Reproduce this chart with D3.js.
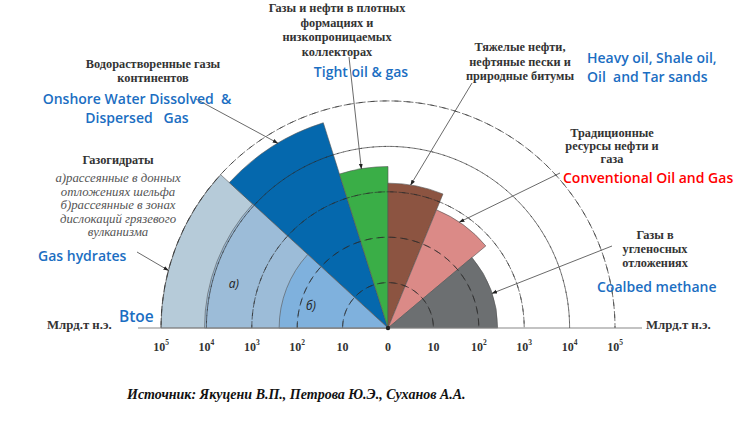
<!DOCTYPE html>
<html>
<head>
<meta charset="utf-8">
<script src="https://cdn.jsdelivr.net/npm/d3@7"></script>
<style>
  html, body { margin: 0; padding: 0; background: #fff; }
  svg { display: block; }
  .ru { font-family: "Liberation Serif", "DejaVu Serif", serif; font-weight: bold; fill: #333; font-size: 12.3px; }
  .ru-it { font-family: "Liberation Serif", "DejaVu Serif", serif; font-style: italic; fill: #555; font-size: 12.8px; }
  .en { font-family: "Open Sans", Lato, sans-serif; font-weight: 600; fill: #1b6ec2; font-size: 14px; }
  .tick { font-family: "Liberation Serif", serif; font-weight: bold; fill: #333; font-size: 12px; }
</style>
</head>
<body>
<svg id="chart" width="737" height="422"></svg>
<script>
// Resource pyramid as half-rose: angle = resource type, radius = log10 volume (bn toe)
const W = 737, H = 422;
const CX = 388, CY = 328;
const R_MAX = 227;

// sectors, angles in degrees measured clockwise from the left axis
const sectorKeys   = ["hydrate", "dissolved", "tight", "heavy", "conventional", "coalbed"];
const sectorStart  = [0, 42.5, 72.5, 90, 112.3, 140];
const sectorEnd    = [42.5, 72.5, 90, 112.3, 140, 180];
const sectorValue  = [1e5, 5.5e4, 3600, 1550, 650, 260];
const sectorColor  = ["#b6cbd9", "#0568ad", "#3aae47", "#8c5441", "#db8a87", "#6c6f71"];

// gas hydrate sub-bands: а) shelf sediments, б) mud volcano zones
const hydrateBands  = ["а)", "б)"];
const hydrateValues = [1.1e4, 250];
const hydrateColors = ["#9cbcd8", "#7fb1dd"];
const bandLabelAt   = [[14.5, 3.2e3], [13, 55]];  // [angle, value] for the band letters

const gridValues = [10, 1e2, 1e3, 1e4, 1e5];
const tickExps   = ["5", "4", "3", "2", "", "", "", "2", "3", "4", "5"];
const tickValues = [1e5, 1e4, 1e3, 1e2, 10, 1, 10, 1e2, 1e3, 1e4, 1e5];
const tickSide   = [-1, -1, -1, -1, -1, 0, 1, 1, 1, 1, 1];

// leader arrows: label anchor point -> [angle, value] on the sector rim
const arrowFrom = [[137, 252], [196, 99], [349, 57], [472, 83], [560, 173], [612, 246]];
const arrowTo   = [[14.7, 1e5], [59.2, 5.5e4], [80.5, 3600], [99, 1550], [124, 650], [161.6, 260]];

const r = d3.scaleLog().domain([1, 1e5]).range([0, R_MAX]);
const rad = (deg) => (deg - 90) * Math.PI / 180;   // d3.arc angle from our angle
const polar = (deg, v) => {
  const a = deg * Math.PI / 180;
  return [CX - r(v) * Math.cos(a), CY - r(v) * Math.sin(a)];
};

const svg = d3.select("#chart");
const g = svg.append("g").attr("transform", `translate(${CX},${CY})`);
const arc = d3.arc().innerRadius(0);

svg.append("defs").append("marker")
  .attr("id", "arr")
  .attr("viewBox", "0 0 10 10")
  .attr("refX", 9).attr("refY", 5)
  .attr("markerWidth", 7).attr("markerHeight", 7)
  .attr("orient", "auto")
  .append("path").attr("d", "M0,1.5L10,5L0,8.5Z").attr("fill", "#222");

// ---- sectors ----
const sectors = sectorKeys.map((k, i) => ({
  key: k, a0: sectorStart[i], a1: sectorEnd[i], v: sectorValue[i], color: sectorColor[i]
}));
g.selectAll("path.sector")
  .data(sectors)
  .join("path")
  .attr("class", "sector")
  .attr("d", (d) => arc({ startAngle: rad(d.a0), endAngle: rad(d.a1), outerRadius: r(d.v) }))
  .attr("fill", (d) => d.color)
  .attr("stroke", "#555")
  .attr("stroke-width", 0.6);

g.selectAll("path.band")
  .data(hydrateBands.map((b, i) => ({ b, v: hydrateValues[i], color: hydrateColors[i] })))
  .join("path")
  .attr("class", "band")
  .attr("d", (d) => arc({ startAngle: rad(sectorStart[0]), endAngle: rad(sectorEnd[0]), outerRadius: r(d.v) }))
  .attr("fill", (d) => d.color)
  .attr("stroke", "#555")
  .attr("stroke-width", 0.6);

// ---- dashed log circles ----
const half = d3.arc().innerRadius((d) => r(d)).outerRadius((d) => r(d))
  .startAngle(-Math.PI / 2).endAngle(Math.PI / 2);
g.selectAll("path.grid")
  .data(gridValues)
  .join("path")
  .attr("class", "grid")
  .attr("d", half)
  .attr("fill", "none")
  .attr("stroke", "#2a2a2a")
  .attr("stroke-opacity", 0.8)
  .attr("stroke-width", 0.8)
  .attr("stroke-dasharray", "7,5");

// ---- base axis ----
svg.append("line")
  .attr("x1", 138).attr("x2", 642)
  .attr("y1", CY).attr("y2", CY)
  .attr("stroke", "#888").attr("stroke-width", 1.2);
svg.append("circle").attr("cx", CX).attr("cy", CY).attr("r", 2.2).attr("fill", "#222");

const ticks = svg.append("g").selectAll("text")
  .data(tickValues.map((v, i) => ({ v, e: tickExps[i], s: tickSide[i] })))
  .join("text")
  .attr("class", "tick")
  .attr("text-anchor", "middle")
  .attr("x", (d) => CX + d.s * r(d.v))
  .attr("y", 351);
ticks.append("tspan").text((d) => (d.s === 0 ? "0" : "10"));
ticks.filter((d) => d.e !== "")
  .append("tspan")
  .attr("dy", -6)
  .attr("font-size", "7.5px")
  .text((d) => d.e);

svg.append("text").attr("class", "ru").attr("x", 47).attr("y", 329).style("font-size", "12.8px").text("Млрд.т н.э.");
svg.append("text").attr("class", "ru").attr("x", 646).attr("y", 329).style("font-size", "12.8px").text("Млрд.т н.э.");
svg.append("text").attr("class", "en").attr("x", 119).attr("y", 322).style("font-size", "15.5px").text("Btoe");

// ---- band letters ----
svg.selectAll("text.band-lbl")
  .data(hydrateBands)
  .join("text")
  .attr("class", "band-lbl")
  .attr("x", (d, i) => polar(bandLabelAt[i][0], bandLabelAt[i][1])[0])
  .attr("y", (d, i) => polar(bandLabelAt[i][0], bandLabelAt[i][1])[1])
  .attr("text-anchor", "middle")
  .attr("font-family", "'Open Sans', sans-serif")
  .attr("font-style", "italic")
  .attr("font-size", "12px")
  .attr("fill", "#222")
  .text((d) => d);

// ---- leader arrows ----
svg.selectAll("line.lead")
  .data(arrowFrom.map((p, i) => ({ p, t: polar(arrowTo[i][0], arrowTo[i][1]) })))
  .join("line")
  .attr("class", "lead")
  .attr("x1", (d) => d.p[0]).attr("y1", (d) => d.p[1])
  .attr("x2", (d) => d.t[0]).attr("y2", (d) => d.t[1])
  .attr("stroke", "#444").attr("stroke-width", 0.8)
  .attr("marker-end", "url(#arr)");

// ---- labels ----
function block(x, y, lines, cls, step, anchor = "middle") {
  return svg.append("g").selectAll("text")
    .data(lines)
    .join("text")
    .attr("class", cls)
    .attr("text-anchor", anchor)
    .attr("x", x)
    .attr("y", (d, i) => y + i * step)
    .style("white-space", "pre")
    .text((d) => d);
}

block(153, 68, ["Водорастворенные газы", "континентов"], "ru", 14);
block(137, 104, ["Onshore Water Dissolved  &", "Dispersed   Gas"], "en", 19);

block(118, 164, ["Газогидраты"], "ru", 14);
block(118, 182, ["а)рассеянные в донных", "отложениях шельфа", "б)рассеянные в зонах", "дислокаций грязевого", "вулканизма"], "ru-it", 13.6);
block(38, 261, ["Gas hydrates"], "en", 19, "start");

block(337, 12, ["Газы и нефти в плотных", "формациях и", "низкопроницаемых", "коллекторах"], "ru", 14.5);
block(361, 77, ["Tight oil & gas"], "en", 19);

block(520, 51, ["Тяжелые нефти,", "нефтяные пески и", "природные битумы"], "ru", 14.5);
block(587, 63, ["Heavy oil, Shale oil,", "Oil  and Tar sands"], "en", 19, "start");

block(612, 137, ["Традиционные", "ресурсы нефти и", "газа"], "ru", 13);
block(563, 183, ["Conventional Oil and Gas"], "en", 19, "start").style("fill", "#ff0000");

block(655, 239, ["Газы в", "угленосных", "отложениях"], "ru", 14);
block(597, 292, ["Coalbed methane"], "en", 19, "start");

svg.append("text")
  .attr("x", 127).attr("y", 399)
  .attr("font-family", "'Liberation Serif', serif")
  .attr("font-style", "italic").attr("font-weight", "bold")
  .attr("font-size", "14px").attr("fill", "#111")
  .text("Источник: Якуцени В.П., Петрова Ю.Э., Суханов А.А.");
</script>
</body>
</html>
